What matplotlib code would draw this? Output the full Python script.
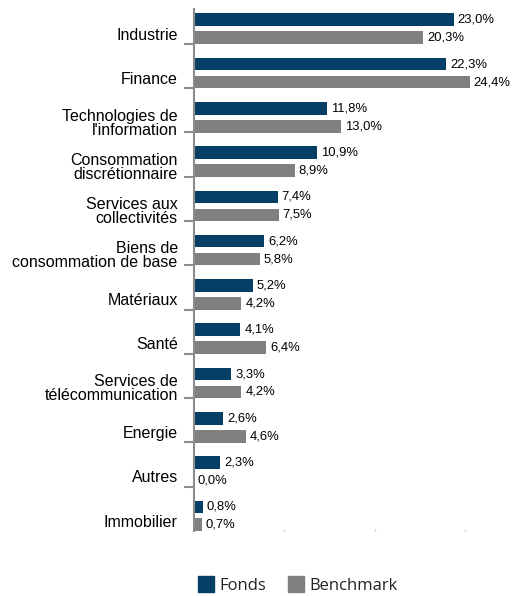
import matplotlib
matplotlib.use("Agg")
import matplotlib.pyplot as plt
import numpy as np
from matplotlib.patches import Patch

categories = ["Industrie", "Finance", "Technologies de\nl'information",
              "Consommation\ndiscrétionnaire", "Services aux\ncollectivités",
              "Biens de\nconsommation de base", "Matériaux", "Santé",
              "Services de\ntélécommunication", "Energie", "Autres", "Immobilier"]
fonds = [23.0, 22.3, 11.8, 10.9, 7.4, 6.2, 5.2, 4.1, 3.3, 2.6, 2.3, 0.8]
bench = [20.3, 24.4, 13.0, 8.9, 7.5, 5.8, 4.2, 6.4, 4.2, 4.6, 0.0, 0.7]
series_names = ["Fonds", "Benchmark"]
xticks = [8, 16, 24]

c_fonds = "#063f66"
c_bench = "#808080"

W, H = 518, 596
fig = plt.figure(figsize=(W / 100, H / 100), dpi=100)
left_px, right_px = 194, 194 + 28 * 11.3
top_px, bot_px = 8.5, 531
ax = fig.add_axes([left_px / W, 1 - bot_px / H, (right_px - left_px) / W, (bot_px - top_px) / H])

n = len(categories)
idx = np.arange(n)
bnd = idx + 1.0  # lower boundary of each category
h = 0.285
ax.barh(bnd - 0.545, fonds, height=h, color=c_fonds, label=series_names[0])
ax.barh(bnd - 0.14, bench, height=h, color=c_bench, label=series_names[1])

for i in range(n):
    ax.text(fonds[i] + 0.35, bnd[i] - 0.545, f"{fonds[i]:.1f}%".replace(".", ","),
            va="center", ha="left", fontsize=9.4, family="Liberation Sans", color="#000000")
    ax.text(bench[i] + 0.35, bnd[i] - 0.14, f"{bench[i]:.1f}%".replace(".", ","),
            va="center", ha="left", fontsize=9.4, family="Liberation Sans", color="#000000")

ax.set_xlim(0, 28)
ax.set_ylim(12, 0.2)

for s in ["top", "right", "bottom"]:
    ax.spines[s].set_visible(False)
ax.spines["left"].set_color("#8c8c8c")
ax.spines["left"].set_linewidth(1.5)

ax.set_yticks(bnd[:-1])
ax.set_yticklabels([])
ax.tick_params(axis="y", which="major", length=7, width=1.5, color="#8c8c8c", direction="out")
ax.set_yticks(bnd - 0.235, minor=True)
ax.set_yticklabels(categories, minor=True, fontsize=11.5, family="Liberation Sans", linespacing=0.92)
ax.tick_params(axis="y", which="minor", length=0, pad=11.7)

ax.set_xticks(xticks)
ax.set_xticklabels([])
ax.tick_params(axis="x", length=1.5, width=1, color="#c8c8c8", direction="in")

handles = [Patch(color=c_fonds), Patch(color=c_bench)]
fig.legend(handles, series_names, loc="center", bbox_to_anchor=(297.5 / W, 1 - 585 / H),
           ncol=2, frameon=False, prop={"family": "Open Sans", "size": 12},
           labelcolor="#222222",
           handlelength=1.0, handleheight=1.05, handletextpad=0.3, columnspacing=1.3)

fig.savefig("out.png", dpi=100)
